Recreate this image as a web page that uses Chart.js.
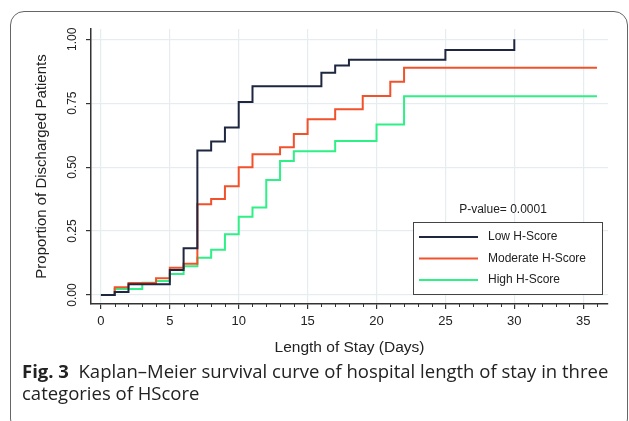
<!DOCTYPE html>
<html>
<head>
<meta charset="utf-8">
<script src="https://cdn.jsdelivr.net/npm/chart.js@4.4.1/dist/chart.umd.min.js"></script>
<style>
  body { margin: 0; background: #fff; width: 629px; height: 421px; overflow: hidden; position: relative; }
  .frame { position: absolute; left: 10px; top: 11px; width: 616px; height: 420px; border: 1.5px solid #666; border-radius: 14px; }
  #wrap { position: absolute; left: 0; top: 0; width: 629px; height: 360px; }
  .caption { position: absolute; left: 22px; top: 360px; font-family: "Open Sans", "Noto Sans", sans-serif; font-size: 18.5px; line-height: 21.5px; color: #222; white-space: nowrap; }
  .caption b { font-weight: 700; }
</style>
</head>
<body>
<div class="frame"></div>
<div id="wrap"><canvas id="km" width="629" height="360"></canvas></div>
<div class="caption"><b>Fig. 3</b>&nbsp; Kaplan–Meier survival curve of hospital length of stay in three<br>categories of HScore</div>
<script>
// --- DATA ---
const seriesNames = ['Low H-Score', 'Moderate H-Score', 'High H-Score'];

const lowDays = [0, 1, 2, 5, 6, 7, 8, 9, 10, 11, 16, 17, 18, 25, 30];
const lowProp = [0, 0.012, 0.042, 0.098, 0.183, 0.565, 0.600, 0.655, 0.755, 0.816, 0.869, 0.897, 0.920, 0.958, 1.000];

const modDays = [0, 1, 2, 4, 5, 6, 7, 8, 9, 10, 11, 13, 14, 15, 17, 19, 21, 22, 36];
const modProp = [0, 0.030, 0.047, 0.066, 0.107, 0.122, 0.355, 0.375, 0.425, 0.500, 0.550, 0.578, 0.630, 0.687, 0.726, 0.778, 0.834, 0.889, 0.889];

const highDays = [0, 1, 3, 4, 5, 6, 7, 8, 9, 10, 11, 12, 13, 14, 17, 20, 22, 36];
const highProp = [0, 0.024, 0.048, 0.055, 0.082, 0.113, 0.146, 0.177, 0.238, 0.306, 0.342, 0.450, 0.524, 0.562, 0.602, 0.667, 0.777, 0.777];

const xTicks = [0, 5, 10, 15, 20, 25, 30, 35];
const yTicks = [0, 0.25, 0.5, 0.75, 1];
const yTickLabels = ['0.00', '0.25', '0.50', '0.75', '1.00'];
const pValueText = 'P-value= 0.0001';

const colors = ['#1e2640', '#f2522b', '#2ef087'];
const gridColor = '#e6edf1';
const axisColor = '#333';
const font = '"Liberation Sans", Arial, sans-serif';

const toPoints = (xs, ys) => xs.map((x, i) => ({ x, y: ys[i] }));

// y tick labels are drawn rotated, like the Stata output
const yLabelPlugin = {
  id: 'yLabels',
  afterDraw(chart) {
    const { ctx, scales: { y } } = chart;
    ctx.save();
    ctx.font = '12px ' + font;
    ctx.fillStyle = '#222';
    ctx.textAlign = 'center';
    ctx.textBaseline = 'middle';
    yTicks.forEach((v, i) => {
      ctx.save();
      ctx.translate(73, y.getPixelForValue(v));
      ctx.rotate(-Math.PI / 2);
      ctx.fillText(yTickLabels[i], 0, 0);
      ctx.restore();
    });
    ctx.restore();
  }
};

// minor ticks every day on the x axis
const minorTickPlugin = {
  id: 'minorTicks',
  afterDraw(chart) {
    const { ctx, scales: { x }, chartArea } = chart;
    ctx.save();
    ctx.strokeStyle = axisColor;
    ctx.lineWidth = 1;
    for (let d = 0; d <= 36; d++) {
      if (d % 5 === 0) continue;
      const px = Math.round(x.getPixelForValue(d)) + 0.5;
      ctx.beginPath();
      ctx.moveTo(px, chartArea.bottom);
      ctx.lineTo(px, chartArea.bottom + 3);
      ctx.stroke();
    }
    ctx.restore();
  }
};

// legend box inside the plot, plus the p-value note
const legendPlugin = {
  id: 'boxLegend',
  afterDraw(chart) {
    const { ctx } = chart;
    const bx = 413, by = 222, bw = 189, bh = 72;
    ctx.save();
    ctx.fillStyle = '#fff';
    ctx.fillRect(bx, by, bw, bh);
    ctx.strokeStyle = '#444';
    ctx.lineWidth = 1;
    ctx.strokeRect(bx + 0.5, by + 0.5, bw, bh);
    ctx.font = '12px ' + font;
    ctx.textBaseline = 'middle';
    chart.data.datasets.forEach((ds, i) => {
      const ly = by + 15 + i * 21.5;
      ctx.strokeStyle = ds.borderColor;
      ctx.lineWidth = 2;
      ctx.beginPath();
      ctx.moveTo(bx + 6, ly);
      ctx.lineTo(bx + 65, ly);
      ctx.stroke();
      ctx.fillStyle = '#222';
      ctx.textAlign = 'left';
      ctx.fillText(ds.label, bx + 75, ly);
    });
    ctx.textAlign = 'center';
    ctx.fillStyle = '#222';
    ctx.fillText(pValueText, 503, 210);
    ctx.restore();
  }
};

new Chart(document.getElementById('km'), {
  type: 'line',
  data: {
    datasets: [
      { label: seriesNames[0], data: toPoints(lowDays, lowProp), borderColor: colors[0] },
      { label: seriesNames[1], data: toPoints(modDays, modProp), borderColor: colors[1] },
      { label: seriesNames[2], data: toPoints(highDays, highProp), borderColor: colors[2] }
    ].map(ds => Object.assign(ds, { stepped: 'before', borderWidth: 2, pointRadius: 0, fill: false }))
  },
  options: {
    responsive: false,
    animation: false,
    devicePixelRatio: 1,
    layout: { padding: { left: 0, top: 29, right: 21, bottom: 0 } },
    plugins: { legend: { display: false }, tooltip: { enabled: false } },
    scales: {
      x: {
        type: 'linear',
        min: -0.72,
        max: 36.8,
        afterBuildTicks: s => { s.ticks = xTicks.map(v => ({ value: v })); },
        afterFit: s => { s.height = 56; },
        ticks: { font: { family: font, size: 13 }, color: '#222', padding: 5, maxRotation: 0, autoSkip: false },
        grid: { color: gridColor, lineWidth: 1.2, tickColor: axisColor, tickLength: 5 },
        border: { color: axisColor, width: 1.5 },
        title: { display: true, text: 'Length of Stay (Days)', color: '#222', font: { family: font, size: 15.5 }, padding: { top: 0, bottom: 3 } }
      },
      y: {
        min: -0.035,
        max: 1.04,
        afterBuildTicks: s => { s.ticks = yTicks.map(v => ({ value: v })); },
        afterFit: s => { s.width = 91; },
        ticks: { display: false },
        grid: { color: gridColor, lineWidth: 1.2, tickColor: axisColor, tickLength: 5 },
        border: { color: axisColor, width: 1.5 },
        title: { display: true, text: 'Proportion of Discharged Patients', color: '#222', font: { family: font, size: 15 }, padding: { top: 33, bottom: 0 } }
      }
    }
  },
  plugins: [yLabelPlugin, minorTickPlugin, legendPlugin]
});
</script>
</body>
</html>
